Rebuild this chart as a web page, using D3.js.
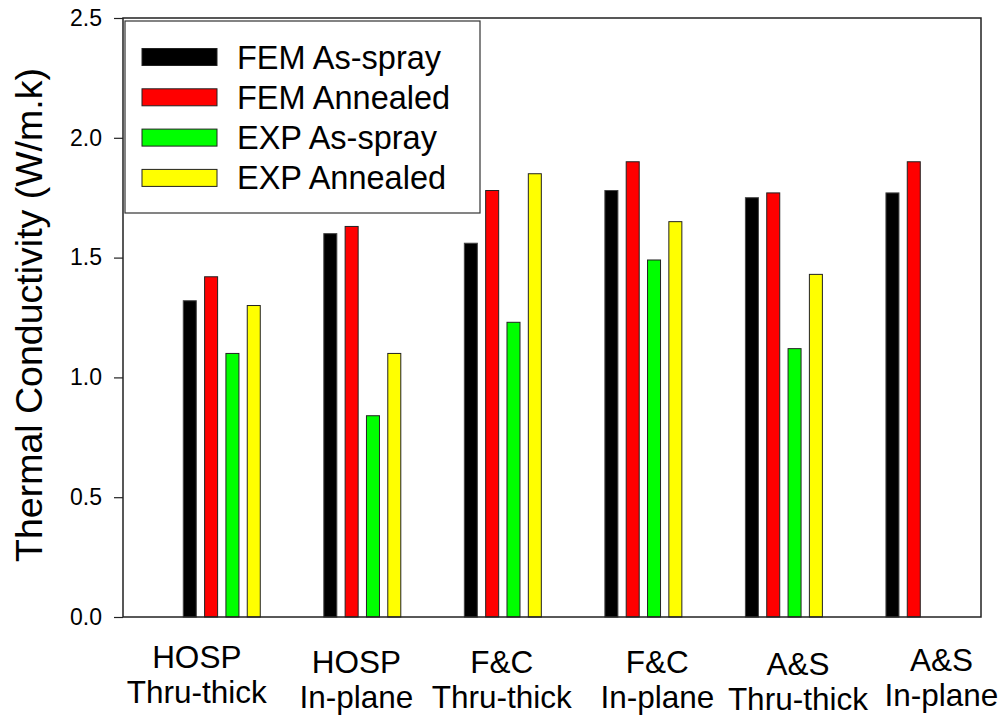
<!DOCTYPE html>
<html>
<head>
<meta charset="utf-8">
<script src="https://cdn.jsdelivr.net/npm/d3@7"></script>
<style>
  html, body { margin: 0; padding: 0; background: #fff; }
  svg { display: block; font-family: "Liberation Sans", Arial, Helvetica, sans-serif; }
</style>
</head>
<body>
<svg id="chart" width="1008" height="721"></svg>
<script>
// Sample groups (two text lines each)
const categories = ["HOSP|Thru-thick", "HOSP|In-plane", "F&C|Thru-thick", "F&C|In-plane", "A&S|Thru-thick", "A&S|In-plane"];
const seriesNames = ["FEM As-spray", "FEM Annealed", "EXP As-spray", "EXP Annealed"];
const seriesColors = ["#000000", "#ff0000", "#00ff00", "#ffff00"];

// Thermal conductivity values, W/m.k (null = not measured)
const femAsSpray  = [1.32, 1.60, 1.56, 1.78, 1.75, 1.77];
const femAnnealed = [1.42, 1.63, 1.78, 1.90, 1.77, 1.90];
const expAsSpray  = [1.10, 0.84, 1.23, 1.49, 1.12, null];
const expAnnealed = [1.30, 1.10, 1.85, 1.65, 1.43, null];

const yTicks = [0, 0.5, 1.0, 1.5, 2.0, 2.5];

const seriesValues = [femAsSpray, femAnnealed, expAsSpray, expAnnealed];

// Plot frame
const frame = { left: 123, right: 981, top: 18, bottom: 617 };

const svg = d3.select("#chart");

const y = d3.scaleLinear().domain([0, 2.5]).range([frame.bottom, frame.top]);

// Group positions and bar positions within a group
const x0 = d3.scaleBand().domain(categories).range([151.5, 994.7]).padding(0);
const x1 = d3.scaleBand().domain(seriesNames).range([-42.65, 42.65])
  .paddingInner(0.39).paddingOuter(0.195);

const bars = [];
categories.forEach((c, ci) => {
  seriesNames.forEach((s, si) => {
    const v = seriesValues[si][ci];
    if (v != null) bars.push({ cat: c, series: s, color: seriesColors[si], value: v });
  });
});

svg.append("g").selectAll("rect")
  .data(bars)
  .join("rect")
  .attr("x", d => x0(d.cat) + x0.bandwidth() / 2 + x1(d.series))
  .attr("width", x1.bandwidth())
  .attr("y", d => y(d.value))
  .attr("height", d => y(0) - y(d.value))
  .attr("fill", d => d.color)
  .attr("stroke", d => d.color === "#000000" ? "#444" : "#222")
  .attr("stroke-width", 1);

// Frame
svg.append("rect")
  .attr("x", frame.left).attr("y", frame.top)
  .attr("width", frame.right - frame.left)
  .attr("height", frame.bottom - frame.top)
  .attr("fill", "none")
  .attr("stroke", "#222")
  .attr("stroke-width", 1.5);

// Y axis
const yAxis = d3.axisLeft(y)
  .tickValues(yTicks)
  .tickFormat(d3.format(".1f"))
  .tickSize(9)
  .tickPadding(12);

const gy = svg.append("g")
  .attr("transform", `translate(${frame.left},0)`)
  .call(yAxis);
gy.select(".domain").remove();
gy.selectAll(".tick line").attr("stroke", "#222").attr("stroke-width", 1.2);
gy.selectAll(".tick text")
  .attr("font-size", 23)
  .attr("fill", "#000")
  .style("font-family", "'Liberation Sans', Arial, sans-serif");

// Y axis title
svg.append("text")
  .attr("transform", "translate(42,315) rotate(-90)")
  .attr("text-anchor", "middle")
  .attr("font-size", 37.5)
  .attr("fill", "#000")
  .text("Thermal Conductivity (W/m.k)");

// Category labels, nudged per group
const labelDx = [-25, -6, -1, 14, 14, 17];
const labelDy = [0, 5, 5, 5, 7, 3];
const xLabels = svg.append("g")
  .attr("font-size", 31.5)
  .attr("text-anchor", "middle")
  .attr("fill", "#000");
categories.forEach((c, i) => {
  const cx = x0(c) + x0.bandwidth() / 2 + labelDx[i];
  const t = xLabels.append("text")
    .attr("x", cx)
    .attr("y", 668 + labelDy[i]);
  const lines = c.split("|");
  t.append("tspan").attr("x", cx).attr("dy", 0).text(lines[0]);
  t.append("tspan").attr("x", cx).attr("dy", 35).text(lines[1]);
});

// Legend
const legend = svg.append("g");
legend.append("rect")
  .attr("x", 125).attr("y", 21)
  .attr("width", 355).attr("height", 192)
  .attr("fill", "#fff")
  .attr("stroke", "#333")
  .attr("stroke-width", 1.2);

const items = legend.selectAll("g.item")
  .data(seriesNames)
  .join("g")
  .attr("class", "item")
  .attr("transform", (d, i) => `translate(0,${i * 40.3})`);

items.append("rect")
  .attr("x", 142).attr("y", 48.5)
  .attr("width", 75).attr("height", 17)
  .attr("fill", (d, i) => seriesColors[i])
  .attr("stroke", "#222")
  .attr("stroke-width", 1);

items.append("text")
  .attr("x", 237).attr("y", 68.5)
  .attr("font-size", 32.5)
  .attr("fill", "#000")
  .text(d => d);
</script>
</body>
</html>
